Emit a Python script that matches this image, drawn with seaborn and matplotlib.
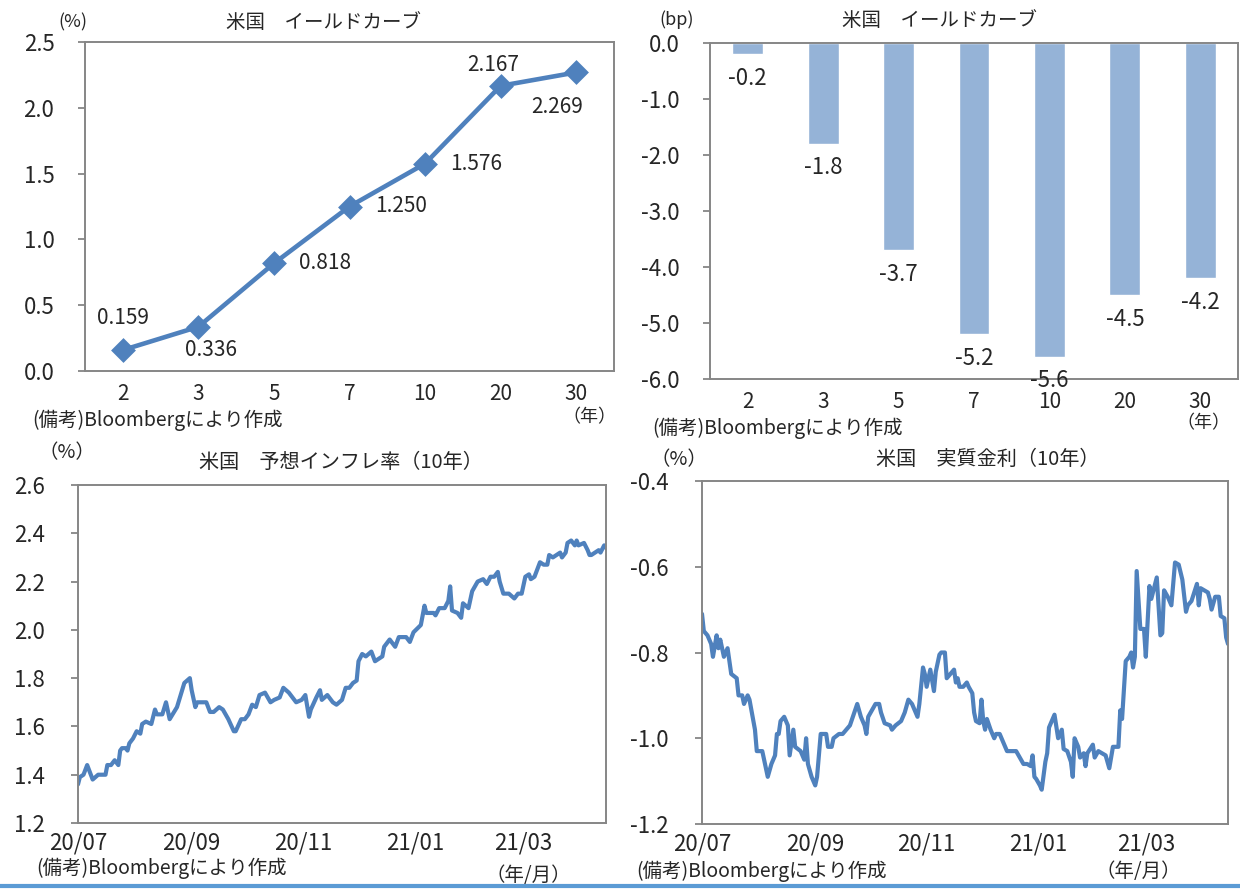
"""
US yield curve, breakeven inflation and real rate (Bloomberg) - 4 panel chart
"""
import pandas as pd
import seaborn as sns
import matplotlib.pyplot as plt
import matplotlib.dates as mdates
from matplotlib.lines import Line2D
from matplotlib.ticker import FuncFormatter, MultipleLocator

# yield curve (top panels)
maturities = ["2", "3", "5", "7", "10", "20", "30"]
yields = [0.159, 0.336, 0.818, 1.250, 1.576, 2.167, 2.269]
yield_chg = [-0.2, -1.8, -3.7, -5.2, -5.6, -4.5, -4.2]

# daily series, days counted from start_date
start_date = "2020-07-01"
end_day = 288

bei_days = [0, 1, 3, 5, 8, 11, 13, 15, 16, 18,
            20, 21, 22, 23, 24, 26, 27, 28, 30, 32,
            34, 35, 37, 40, 42, 43, 46, 48, 50, 54,
            56, 58, 61, 62, 64, 65, 68, 70, 72, 74,
            77, 79, 82, 85, 86, 89, 91, 93, 95, 97,
            99, 102, 105, 107, 110, 112, 115, 116, 119, 122,
            124, 126, 127, 130, 132, 133, 136, 139, 141, 144,
            146, 148, 150, 152, 153, 155, 157, 160, 162, 166,
            167, 170, 173, 175, 179, 181, 183, 187, 189, 190,
            194, 195, 197, 200, 202, 203, 204, 207, 209, 210,
            213, 215, 218, 221, 223, 225, 227, 229, 230, 232,
            235, 238, 240, 242, 244, 246, 247, 249, 252, 254,
            256, 257, 259, 261, 263, 264, 266, 267, 269, 271,
            272, 273, 276, 278, 279, 280, 282, 284, 285, 287,
            288]
bei = [1.36, 1.39, 1.40, 1.44, 1.38, 1.40, 1.40, 1.40, 1.44, 1.44,
       1.46, 1.45, 1.44, 1.50, 1.51, 1.51, 1.50, 1.53, 1.55, 1.58,
       1.57, 1.61, 1.62, 1.61, 1.67, 1.65, 1.65, 1.70, 1.63, 1.68,
       1.73, 1.78, 1.80, 1.75, 1.68, 1.70, 1.70, 1.70, 1.66, 1.66,
       1.68, 1.67, 1.63, 1.58, 1.58, 1.63, 1.63, 1.65, 1.69, 1.68,
       1.73, 1.74, 1.70, 1.71, 1.72, 1.76, 1.74, 1.73, 1.70, 1.71,
       1.73, 1.64, 1.67, 1.72, 1.75, 1.71, 1.73, 1.70, 1.69, 1.71,
       1.76, 1.76, 1.78, 1.79, 1.87, 1.90, 1.89, 1.91, 1.87, 1.89,
       1.93, 1.96, 1.93, 1.97, 1.97, 1.95, 1.99, 2.02, 2.10, 2.07,
       2.07, 2.06, 2.09, 2.09, 2.12, 2.18, 2.08, 2.07, 2.05, 2.11,
       2.09, 2.16, 2.20, 2.21, 2.19, 2.22, 2.22, 2.24, 2.20, 2.15,
       2.15, 2.13, 2.15, 2.15, 2.22, 2.23, 2.21, 2.22, 2.28, 2.27,
       2.27, 2.31, 2.30, 2.31, 2.32, 2.30, 2.32, 2.36, 2.37, 2.35,
       2.37, 2.35, 2.36, 2.33, 2.31, 2.31, 2.32, 2.33, 2.32, 2.35,
       2.34]

real_days = [0, 1, 3, 5, 6, 8, 9, 10, 12, 14,
             16, 19, 20, 22, 23, 25, 26, 29, 30, 33,
             35, 36, 38, 40, 41, 42, 43, 45, 47, 48,
             50, 51, 54, 56, 57, 58, 60, 62, 63, 65,
             68, 69, 71, 72, 75, 77, 79, 81, 85, 87,
             89, 90, 91, 95, 97, 98, 100, 103, 104, 106,
             109, 111, 113, 115, 118, 119, 121, 122, 123, 125,
             127, 128, 130, 131, 133, 134, 136, 138, 139, 140,
             141, 143, 145, 146, 148, 149, 150, 152, 153, 154,
             155, 156, 158, 160, 161, 163, 165, 167, 169, 172,
             174, 176, 178, 180, 181, 182, 183, 185, 186, 188,
             189, 190, 193, 195, 197, 198, 200, 202, 203, 204,
             206, 207, 209, 210, 211, 214, 215, 217, 219, 221,
             223, 225, 228, 229, 230, 232, 234, 235, 236, 237,
             238, 240, 242, 243, 245, 246, 249, 251, 252, 253,
             255, 257, 259, 261, 263, 265, 266, 268, 271, 272,
             273, 275, 277, 278, 279, 281, 283, 284, 286, 287,
             288]
real = [-0.71, -0.75, -0.76, -0.78, -0.81, -0.76, -0.79, -0.77, -0.81, -0.79,
        -0.85, -0.86, -0.90, -0.90, -0.92, -0.90, -0.91, -0.98, -1.03, -1.03,
        -1.07, -1.09, -1.06, -1.04, -0.99, -0.99, -0.96, -0.95, -0.97, -1.04,
        -0.98, -1.02, -1.03, -1.05, -1.00, -1.06, -1.09, -1.11, -1.09, -0.99,
        -0.99, -1.02, -1.02, -1.00, -0.99, -0.99, -0.98, -0.97, -0.92, -0.95,
        -0.97, -0.99, -0.95, -0.92, -0.92, -0.94, -0.965, -0.97, -0.98, -0.97,
        -0.96, -0.94, -0.91, -0.92, -0.95, -0.92, -0.835, -0.85, -0.88, -0.84,
        -0.89, -0.845, -0.805, -0.80, -0.80, -0.86, -0.85, -0.84, -0.87, -0.86,
        -0.88, -0.88, -0.87, -0.88, -0.895, -0.94, -0.96, -0.965, -0.91, -0.96,
        -0.98, -0.955, -0.98, -1.00, -0.99, -0.99, -1.01, -1.03, -1.03, -1.03,
        -1.045, -1.06, -1.06, -1.065, -1.04, -1.09, -1.095, -1.11, -1.12, -1.055,
        -1.035, -0.975, -0.945, -1.00, -0.98, -1.025, -1.03, -1.055, -1.09, -1.00,
        -1.02, -1.045, -1.035, -1.065, -1.035, -1.015, -1.045, -1.03, -1.035, -1.04,
        -1.07, -1.02, -1.02, -0.935, -0.955, -0.82, -0.81, -0.80, -0.835, -0.81,
        -0.61, -0.745, -0.745, -0.81, -0.645, -0.675, -0.625, -0.76, -0.755, -0.655,
        -0.67, -0.69, -0.59, -0.595, -0.63, -0.705, -0.69, -0.68, -0.64, -0.69,
        -0.65, -0.655, -0.66, -0.675, -0.70, -0.67, -0.67, -0.715, -0.72, -0.765,
        -0.78]

sns.set_style("white")
plt.rcParams["font.family"] = ["Noto Sans CJK JP", "DejaVu Sans"]

LINE = "#4F81BD"
BAR = "#95B3D7"
SPINE = "#868686"
W, H = 1240, 890

fig = plt.figure(figsize=(W / 100, H / 100), dpi=100)


def px_axes(l, t, r, b):
    return fig.add_axes([l / W, 1 - b / H, (r - l) / W, (b - t) / H])


def txt(x, y, s, size=14, ha="center"):
    fig.text(x / W, 1 - y / H, s, fontsize=size, ha=ha, va="center")


def style(ax, ypad, xpad, xsize):
    for sp in ax.spines.values():
        sp.set_color(SPINE)
        sp.set_linewidth(1.4)
    ax.tick_params(axis="y", length=5, width=1.3, color=SPINE, pad=ypad,
                   labelsize=16, left=True)
    ax.tick_params(axis="x", length=0, pad=xpad, labelsize=xsize)
    ax.set_xlabel("")
    ax.set_ylabel("")


fmt1 = FuncFormatter(lambda v, p: f"{v:.1f}")

# --- top left: yield level
ax1 = px_axes(85, 42, 614, 371)
sns.pointplot(x=maturities, y=yields, ax=ax1, color=LINE, marker="D",
              markersize=10, linewidth=3.3, errorbar=None)
ax1.set_xlim(-0.5, 6.5)
ax1.set_ylim(0, 2.5)
ax1.yaxis.set_major_locator(MultipleLocator(0.5))
ax1.yaxis.set_major_formatter(fmt1)
style(ax1, 17, 9, 15)
offsets = [(0, 23), (9, -17), (37, 0), (37, 0), (37, 0), (-5, 15), (-14, -25)]
for i, (v, off) in enumerate(zip(yields, offsets)):
    ax1.annotate(f"{v:.3f}", (i, v), xytext=off, textcoords="offset points",
                 ha="center", va="center", fontsize=15)

# --- top right: change in bp
ax2 = px_axes(710, 43, 1238, 379)
sns.barplot(x=maturities, y=yield_chg, ax=ax2, color=BAR, saturation=1,
            width=0.41, errorbar=None)
ax2.set_xlim(-0.5, 6.5)
ax2.set_ylim(-6, 0)
ax2.yaxis.set_major_locator(MultipleLocator(1.0))
ax2.yaxis.set_major_formatter(fmt1)
style(ax2, 17, 9, 15)
ax2.bar_label(ax2.containers[0], fmt="%.1f", padding=9, fontsize=16)

# --- bottom left: breakeven inflation
t0 = pd.Timestamp(start_date)
bei_dates = t0 + pd.to_timedelta(bei_days, unit="D")
real_dates = t0 + pd.to_timedelta(real_days, unit="D")
months = mdates.MonthLocator(bymonth=[1, 3, 5, 7, 9, 11])

ax3 = px_axes(78, 485, 606, 823)
sns.lineplot(x=bei_dates, y=bei, ax=ax3, color=LINE, linewidth=3.0)
ax3.set_xlim(t0, t0 + pd.Timedelta(days=end_day))
ax3.set_ylim(1.2, 2.6)
ax3.yaxis.set_major_locator(MultipleLocator(0.2))
ax3.yaxis.set_major_formatter(fmt1)
ax3.xaxis.set_major_locator(months)
ax3.xaxis.set_major_formatter(mdates.DateFormatter("%y/%m"))
style(ax3, 19, 6, 16)

# --- bottom right: real rate
ax4 = px_axes(702, 481, 1228, 824)
sns.lineplot(x=real_dates, y=real, ax=ax4, color=LINE, linewidth=3.0)
ax4.set_xlim(t0, t0 + pd.Timedelta(days=end_day))
ax4.set_ylim(-1.2, -0.4)
ax4.yaxis.set_major_locator(MultipleLocator(0.2))
ax4.yaxis.set_major_formatter(fmt1)
ax4.xaxis.set_major_locator(months)
ax4.xaxis.set_major_formatter(mdates.DateFormatter("%y/%m"))
style(ax4, 19, 6, 16)

# titles, units and notes
txt(324, 22, "米国\u3000イールドカーブ", 14)
txt(940, 20, "米国\u3000イールドカーブ", 14)
txt(341, 463, "米国\u3000予想インフレ率（10年）", 14.5)
txt(988, 459, "米国\u3000実質金利（10年）", 14.5)

txt(73, 22, "(%)", 13)
txt(677, 20, "(bp)", 13)
txt(67, 453, "（%）", 14)
txt(679, 460, "（%）", 14)

txt(589, 417, "（年）", 13)
txt(1203, 423, "（年）", 13)
txt(528, 876, "（年/月）", 14)
txt(1138, 871, "（年/月）", 14)

txt(32, 420, "(備考)Bloombergにより作成", 14, ha="left")
txt(652, 428, "(備考)Bloombergにより作成", 14, ha="left")
txt(36, 868, "(備考)Bloombergにより作成", 14, ha="left")
txt(636, 871, "(備考)Bloombergにより作成", 14, ha="left")

fig.add_artist(Line2D([0, 1], [1 - 886 / H] * 2, transform=fig.transFigure,
                      color="#5B9BD5", linewidth=3))

fig.savefig("out.png", dpi=100, facecolor="white")
